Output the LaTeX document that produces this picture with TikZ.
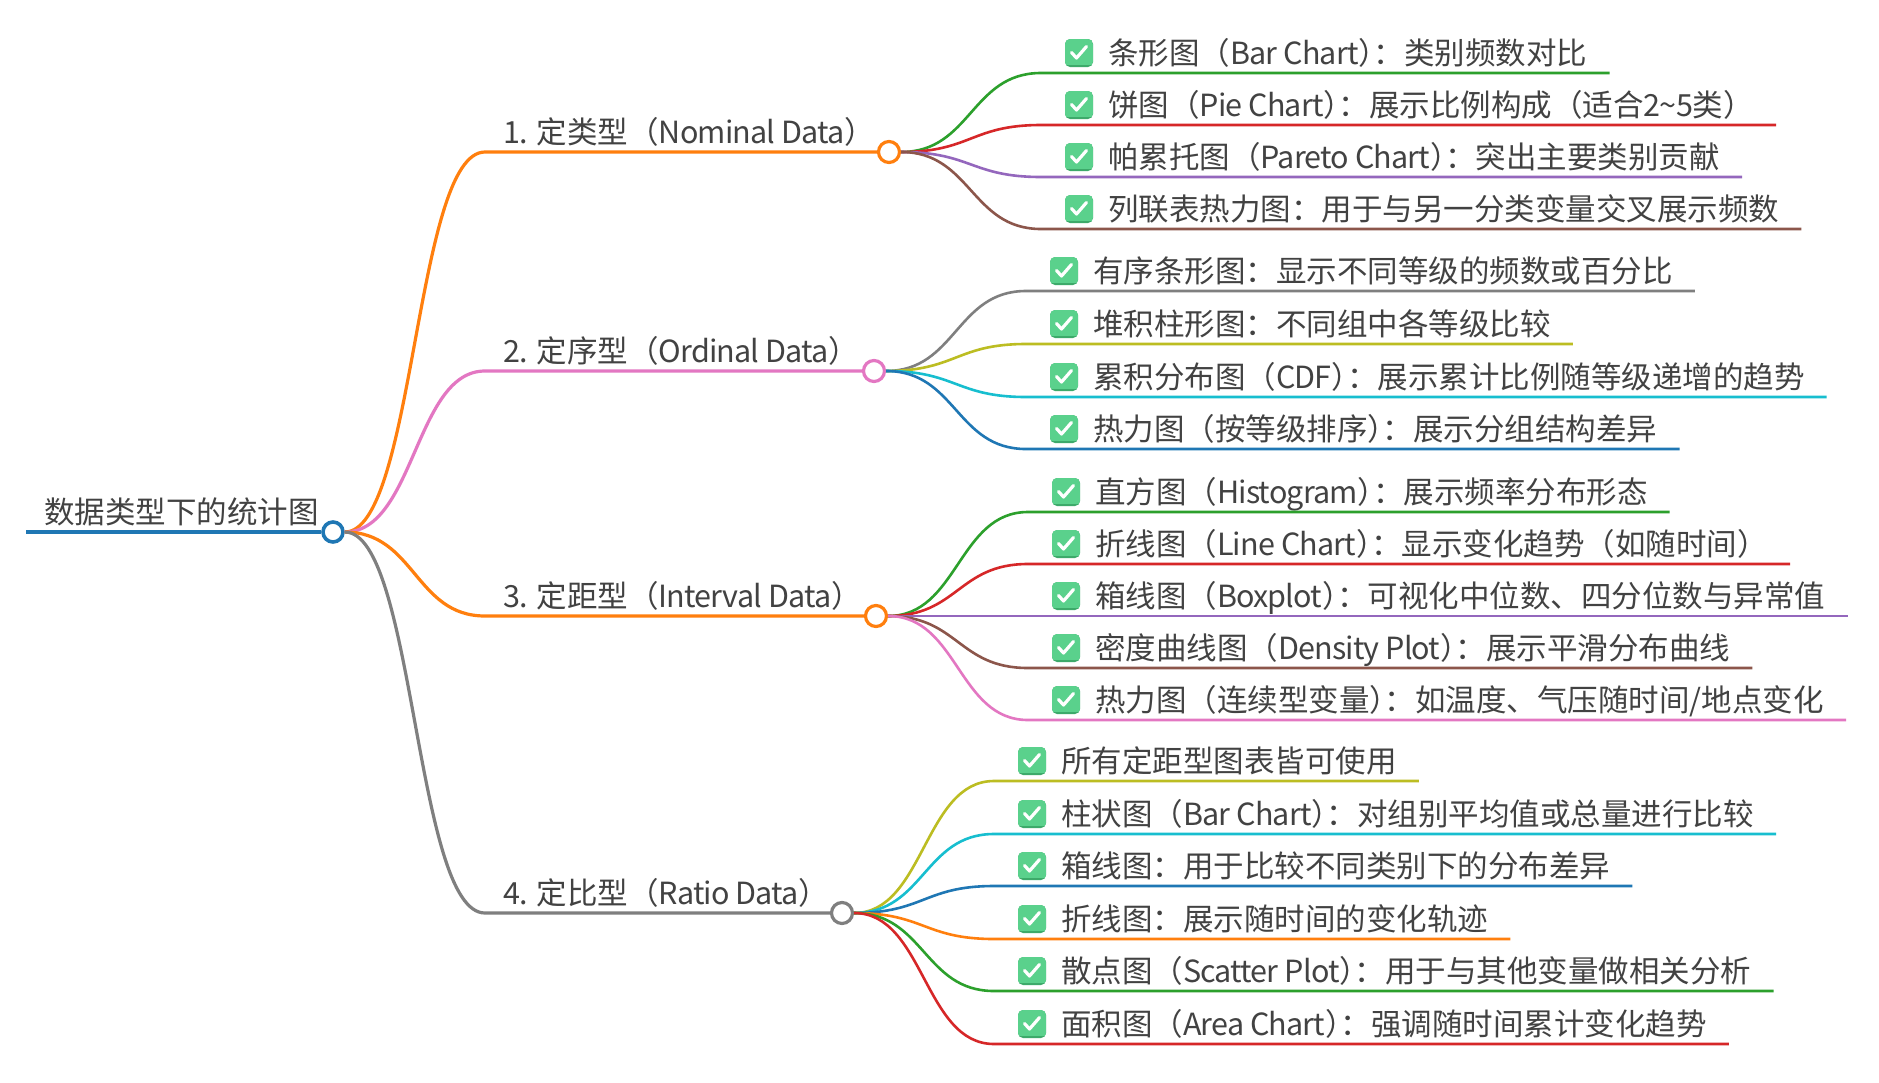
\documentclass[tikz,border=0pt]{standalone}
\usepackage{fontspec}
\setmainfont{Noto Sans CJK SC}
\definecolor{cblue}{HTML}{1F77B4}
\definecolor{corange}{HTML}{FF7F0E}
\definecolor{cgreen}{HTML}{2CA02C}
\definecolor{cred}{HTML}{D62728}
\definecolor{cpurple}{HTML}{9467BD}
\definecolor{cbrown}{HTML}{8C564B}
\definecolor{cpink}{HTML}{E377C2}
\definecolor{cgray}{HTML}{7F7F7F}
\definecolor{colive}{HTML}{BCBD22}
\definecolor{ccyan}{HTML}{17BECF}
\definecolor{txtc}{HTML}{424242}
\definecolor{chkgreen}{HTML}{5AD18C}
\definecolor{chkdark}{HTML}{3DAA6A}
\tikzset{
  mmtxt/.style={inner sep=0pt, text=txtc, font=\fontsize{30.5}{36}\selectfont, anchor=base west},
  rootline/.style={line width=4.2pt},
  branchline/.style={line width=3.2pt},
  leafline/.style={line width=2.6pt},
  rootdot/.style={circle, draw=cblue, line width=3.6pt, fill=white, minimum size=20pt, inner sep=0pt},
  branchdot/.style={circle, line width=3.2pt, fill=white, minimum size=21pt, inner sep=0pt},
  chk/.style={rectangle, rounded corners=5pt, fill=chkdark, draw=none,
    minimum width=28pt, minimum height=28pt, inner sep=0pt,
    path picture={
      \fill[chkgreen, sharp corners] ([yshift=2.5pt]path picture bounding box.south west) rectangle (path picture bounding box.north east);
      \draw[white, sharp corners, line width=3.2pt, line cap=round, line join=round]
        ([shift={(-7.5pt,0.5pt)}]path picture bounding box.center) --
        ([shift={(-2.5pt,-5pt)}]path picture bounding box.center) --
        ([shift={(7.5pt,6.5pt)}]path picture bounding box.center);
    }}
}
% closing paren followed by colon, set with punctuation compression
\newcommand{\pcolon}{）\kern-0.5em：}
% Latin run, set slightly tighter
\newcommand{\lat}[1]{{\addfontfeature{LetterSpace=-2.8}#1}}
% #1 name, #2 parent circle, #3 start x, #4 line y, #5 colour, #6 text
\newcommand{\mmleaf}[6]{%
  \coordinate (#1s) at (#3,#4);
  \node[chk] (#1k) at (#3+38,#4-20) {};
  \node[mmtxt] (#1t) at (#3+67,#4-9) {#6};
  \draw[leafline,#5] (#2.east) .. controls +(70,0) and +(-70,0) .. (#1s) -- ([xshift=22pt]#1t.east |- #1s);
}
\begin{document}
\begin{tikzpicture}[x=1pt,y=-1pt]
\useasboundingbox[fill=white] (0,0) rectangle (1879,1082);

% root
\coordinate (root0) at (26,532);
\node[rootdot] (rootc) at (333,532) {};
\draw[rootline,cblue] (root0) -- (rootc.west);
\node[mmtxt] (roottxt) at (44,523) {数据类型下的统计图};

% branches
\coordinate (b1s) at (485,152);
\coordinate (b2s) at (485,371);
\coordinate (b3s) at (485,616);
\coordinate (b4s) at (485,913);
\node[branchdot, draw=corange] (b1c) at (889,152) {};
\node[branchdot, draw=cpink] (b2c) at (874,371) {};
\node[branchdot, draw=corange] (b3c) at (876,616) {};
\node[branchdot, draw=cgray] (b4c) at (842,913) {};
\node[mmtxt] (b1t) at (503,143) {\lat{1.} 定类型（\lat{Nominal Data}）};
\node[mmtxt] (b2t) at (503,362) {\lat{2.} 定序型（\lat{Ordinal Data}）};
\node[mmtxt] (b3t) at (503,607) {\lat{3.} 定距型（\lat{Interval Data}）};
\node[mmtxt] (b4t) at (503,904) {\lat{4.} 定比型（\lat{Ratio Data}）};
\draw[branchline,corange] (rootc.east) .. controls +(70,0) and +(-70,0) .. (b1s) -- (b1c.west);
\draw[branchline,cpink] (rootc.east) .. controls +(70,0) and +(-70,0) .. (b2s) -- (b2c.west);
\draw[branchline,corange] (rootc.east) .. controls +(70,0) and +(-70,0) .. (b3s) -- (b3c.west);
\draw[branchline,cgray] (rootc.east) .. controls +(70,0) and +(-70,0) .. (b4s) -- (b4c.west);

% leaves of branch 1
\mmleaf{la}{b1c}{1041}{73}{cgreen}{条形图（\lat{Bar Chart}\pcolon 类别频数对比}
\mmleaf{lb}{b1c}{1041}{125}{cred}{饼图（\lat{Pie Chart}\pcolon 展示比例构成（适合\lat{2\textasciitilde5}类）}
\mmleaf{lc}{b1c}{1041}{177}{cpurple}{帕累托图（\lat{Pareto Chart}\pcolon 突出主要类别贡献}
\mmleaf{ld}{b1c}{1041}{229}{cbrown}{列联表热力图：用于与另一分类变量交叉展示频数}

% leaves of branch 2
\mmleaf{le}{b2c}{1026}{291}{cgray}{有序条形图：显示不同等级的频数或百分比}
\mmleaf{lf}{b2c}{1026}{344}{colive}{堆积柱形图：不同组中各等级比较}
\mmleaf{lg}{b2c}{1026}{397}{ccyan}{累积分布图（\lat{CDF}\pcolon 展示累计比例随等级递增的趋势}
\mmleaf{lh}{b2c}{1026}{449}{cblue}{热力图（按等级排序\pcolon 展示分组结构差异}

% leaves of branch 3
\mmleaf{li}{b3c}{1028}{512}{cgreen}{直方图（\lat{Histogram}\pcolon 展示频率分布形态}
\mmleaf{lj}{b3c}{1028}{564}{cred}{折线图（\lat{Line Chart}\pcolon 显示变化趋势（如随时间）}
\mmleaf{lk}{b3c}{1028}{616}{cpurple}{箱线图（\lat{Boxplot}\pcolon 可视化中位数、四分位数与异常值}
\mmleaf{ll}{b3c}{1028}{668}{cbrown}{密度曲线图（\lat{Density Plot}\pcolon 展示平滑分布曲线}
\mmleaf{lm}{b3c}{1028}{720}{cpink}{热力图（连续型变量\pcolon 如温度、气压随时间/地点变化}

% leaves of branch 4
\mmleaf{ln}{b4c}{994}{781}{colive}{所有定距型图表皆可使用}
\mmleaf{lo}{b4c}{994}{834}{ccyan}{柱状图（\lat{Bar Chart}\pcolon 对组别平均值或总量进行比较}
\mmleaf{lp}{b4c}{994}{886}{cblue}{箱线图：用于比较不同类别下的分布差异}
\mmleaf{lq}{b4c}{994}{939}{corange}{折线图：展示随时间的变化轨迹}
\mmleaf{lr}{b4c}{994}{991}{cgreen}{散点图（\lat{Scatter Plot}\pcolon 用于与其他变量做相关分析}
\mmleaf{ls}{b4c}{994}{1044}{cred}{面积图（\lat{Area Chart}\pcolon 强调随时间累计变化趋势}
\end{tikzpicture}
\end{document}
